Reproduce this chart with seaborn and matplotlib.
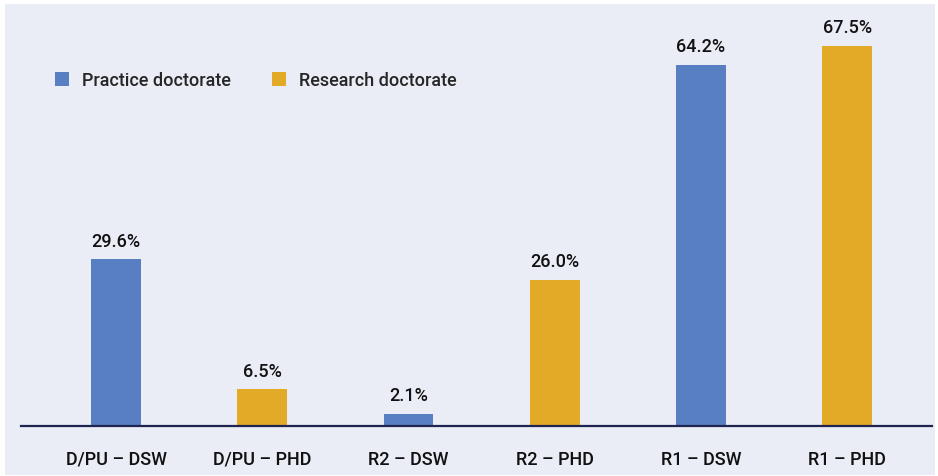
import matplotlib
matplotlib.use("Agg")
import matplotlib.pyplot as plt
import matplotlib.patches as mpatches
import seaborn as sns
import pandas as pd

categories = ["D/PU – DSW", "D/PU – PHD", "R2 – DSW", "R2 – PHD", "R1 – DSW", "R1 – PHD"]
shares = [29.6, 6.5, 2.1, 26.0, 64.2, 67.5]
degree = ["Practice doctorate", "Research doctorate"] * 3

palette = {"Practice doctorate": "#587fc1", "Research doctorate": "#e2aa27"}
panel = "#eaecf6"

sns.set_theme(style="white")
plt.rcParams["font.family"] = ["Roboto", "DejaVu Sans"]
fw = "medium"
fs = 13

df = pd.DataFrame({"cat": categories, "share": shares, "degree": degree})

fig = plt.figure(figsize=(9.38, 4.77), dpi=100)
fig.patch.set_facecolor("white")
# light panel behind everything
fig.patches.append(mpatches.Rectangle((5 / 938, 1 / 477), 930 / 938, 471 / 477,
                                      transform=fig.transFigure, facecolor=panel,
                                      edgecolor="none", zorder=-1))

ax = fig.add_axes([21 / 938, 50 / 477, 911 / 938, 422 / 477])
ax.set_facecolor("none")
ax.set_zorder(1)

sns.barplot(data=df, x="cat", y="share", hue="degree", palette=palette,
            dodge=False, width=0.34, saturation=1, linewidth=0, ax=ax)

for c in ax.containers:
    ax.bar_label(c, fmt="%.1f%%", padding=7, fontsize=fs, fontweight=fw,
                 color="#111111")

ax.set_xlim(-0.65, 5.58)
ax.set_ylim(0, 75)
ax.set_xlabel("")
ax.set_ylabel("")
ax.set_yticks([])
ax.tick_params(axis="x", length=0, pad=17, labelsize=fs, labelcolor="#111111")
for lab in ax.get_xticklabels():
    lab.set_fontweight(fw)
for s in ["top", "left", "right"]:
    ax.spines[s].set_visible(False)
ax.spines["bottom"].set_color("#1f2550")
ax.spines["bottom"].set_linewidth(1.6)

ax.legend(loc="upper left", bbox_to_anchor=(0.019, 0.88), ncol=2, frameon=False,
          handlelength=0.8, handleheight=0.8, handletextpad=0.7, columnspacing=2.3,
          prop={"size": fs, "weight": fw})

fig.savefig("out.png", dpi=100, facecolor="white")
